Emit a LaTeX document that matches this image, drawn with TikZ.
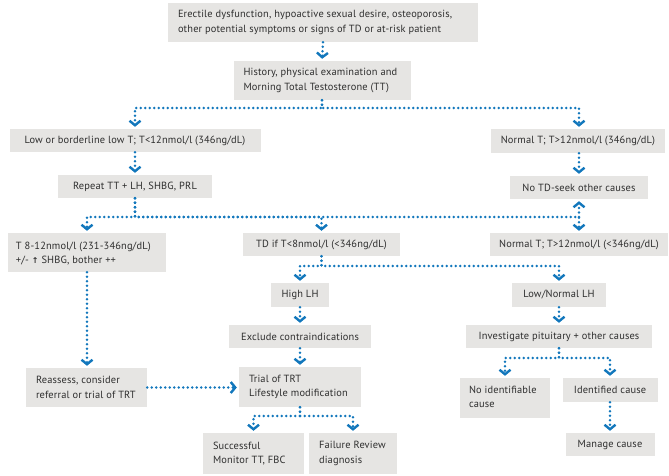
\documentclass[tikz,border=0pt]{standalone}
\usepackage{fontspec}
\setmainfont[LetterSpace=1.5]{PT Sans}
\newfontfamily\symfont{DejaVu Sans}
\usetikzlibrary{arrows.meta}
\definecolor{boxgray}{HTML}{E6E5E3}
\definecolor{linkblue}{HTML}{1277BC}
\definecolor{textgray}{HTML}{2E2E2E}
\begin{document}
\begin{tikzpicture}[x=1pt,y=-1pt,
  box/.style={fill=boxgray, inner sep=0pt, text=textgray, font=\fontsize{10.4}{14.5}\selectfont},
  cbox/.style={box, align=center},
  ltext/.style={inner sep=0pt, text=textgray, font=\fontsize{10.4}{14.5}\selectfont, align=left, anchor=west},
  dotline/.style={draw=linkblue, line width=2.7pt, dash pattern=on 0pt off 4.5pt, line cap=round},
  dotarrow/.style={dotline, -{Straight Barb[length=4.5pt,width=11pt,line width=2.4pt]}, shorten >=2pt}
]
\useasboundingbox (0,0) rectangle (669,476);

% boxes
\node[box, minimum width=310pt, minimum height=39pt] (A) at (323,22.5) {};
\node[box, minimum width=177pt, minimum height=39pt] (B) at (322,80.5) {};
\node[cbox, minimum width=251pt, minimum height=23pt] (C1) at (135,140.5)
  {Low or borderline low T; T<12nmol/l (346ng/dL)};
\node[cbox, minimum width=174pt, minimum height=24pt] (C2) at (578,141)
  {Normal T; T>12nmol/l (346ng/dL)};
\node[cbox, minimum width=154pt, minimum height=23pt] (D1) at (135,186.5)
  {Repeat TT + LH, SHBG, PRL};
\node[cbox, minimum width=138pt, minimum height=23pt] (D2) at (579,187.5)
  {No TD-seek other causes};
\node[box, minimum width=158pt, minimum height=39pt] (E1) at (87,252.5) {};
\node[cbox, minimum width=157pt, minimum height=23pt] (E2) at (321.5,244.5)
  {TD if T<8nmol/l (<346ng/dL)};
\node[cbox, minimum width=178pt, minimum height=23pt] (E3) at (579,244.5)
  {Normal T; T>12nmol/l (<346ng/dL)};
\node[cbox, minimum width=58pt, minimum height=24pt] (F1) at (300,295) {High LH};
\node[cbox, minimum width=94pt, minimum height=24pt] (F2) at (559,295) {Low/Normal LH};
\node[cbox, minimum width=142pt, minimum height=23pt] (G1) at (300,336.5) {Exclude contraindications};
\node[cbox, minimum width=186pt, minimum height=23pt] (G2) at (559,336.5) {Investigate pituitary + other causes};
\node[box, minimum width=121pt, minimum height=39pt] (H1) at (86.5,387.5) {};
\node[box, minimum width=122pt, minimum height=40pt] (H2) at (300,387) {};
\node[box, minimum width=90pt, minimum height=40pt] (I1) at (505,398) {};
\node[cbox, minimum width=95pt, minimum height=24pt] (I2) at (610,390) {Identified cause};
\node[cbox, minimum width=89pt, minimum height=23pt] (J) at (610,444.5) {Manage cause};
\node[box, minimum width=101pt, minimum height=41pt] (K1) at (253.5,453.5) {};
\node[box, minimum width=88pt, minimum height=41pt] (K2) at (353,453.5) {};

% left-aligned texts
\node[ltext] (At) at ([xshift=10pt]A.west)
  {Erectile dysfunction, hypoactive sexual desire, osteoporosis,\\other potential symptoms or signs of TD or at-risk patient};
\node[ltext] (Bt) at ([xshift=10pt]B.west)
  {History, physical examination and\\Morning Total Testosterone (TT)};
\node[ltext] (E1t) at ([xshift=8pt,yshift=-1pt]E1.west)
  {T 8-12nmol/l (231-346ng/dL)\\+/- {\symfont\bfseries\fontsize{8}{14.5}\selectfont ↑} SHBG, bother ++};
\node[ltext] (H1t) at ([xshift=10pt]H1.west)
  {Reassess, consider\\referral or trial of TRT};
\node[ltext] (H2t) at ([xshift=10pt]H2.west)
  {Trial of TRT\\Lifestyle modification};
\node[ltext] (I1t) at ([xshift=9pt,yshift=1pt]I1.west)
  {No identifiable\\cause};
\node[ltext] (K1t) at ([xshift=10pt]K1.west)
  {Successful\\Monitor TT, FBC};
\node[ltext] (K2t) at ([xshift=10pt]K2.west)
  {Failure Review\\diagnosis};

% branch points
\coordinate (b1L) at (135,108);
\coordinate (b1R) at (579,108);
\coordinate (b2L) at (87,217);
\coordinate (b2M) at (321.5,217);
\coordinate (b2R) at (579,217);
\coordinate (b3) at (321.5,266);
\coordinate (b4) at (559,358);
\coordinate (b5) at (300,416);

% connectors
\draw[dotarrow] (A.south) -- (B.north);
\draw[dotarrow] (B.south) |- (b1L) -- (C1.north);
\draw[dotarrow] (B.south) |- (b1R) -- (C2.north -| b1R);
\draw[dotarrow] (C1.south) -- (D1.north);
\draw[dotarrow] (C2.south -| D2.north) -- (D2.north);
\draw[dotarrow] (D1.south) |- (b2L) -- (E1.north);
\draw[dotarrow] (D1.south) |- (b2M) -- (E2.north);
\draw[dotarrow] (D1.south) |- (b2R) -- (E3.north);
\draw[dotarrow] (b2R) -- (D2.south);
\draw[dotarrow] (E2.south) -- (b3) -| (F1.north);
\draw[dotarrow] (E2.south) -- (b3) -| (F2.north);
\draw[dotarrow] (F1.south) -- (G1.north);
\draw[dotarrow] (F2.south) -- (G2.north);
\draw[dotarrow] (E1.south) -- (H1.north -| E1.south);
\draw[dotarrow] (G1.south) -- (H2.north);
\draw[dotarrow] (H1.east) -- (H1.east -| H2.west);
\draw[dotarrow] (G2.south) -- (b4) -| (I1.north);
\draw[dotarrow] (G2.south) -- (b4) -| (I2.north);
\draw[dotarrow] (I2.south) -- (J.north);
\draw[dotarrow] (H2.south) -- (b5) -| (K1.north);
\draw[dotarrow] (H2.south) -- (b5) -| (K2.north);
\end{tikzpicture}
\end{document}
